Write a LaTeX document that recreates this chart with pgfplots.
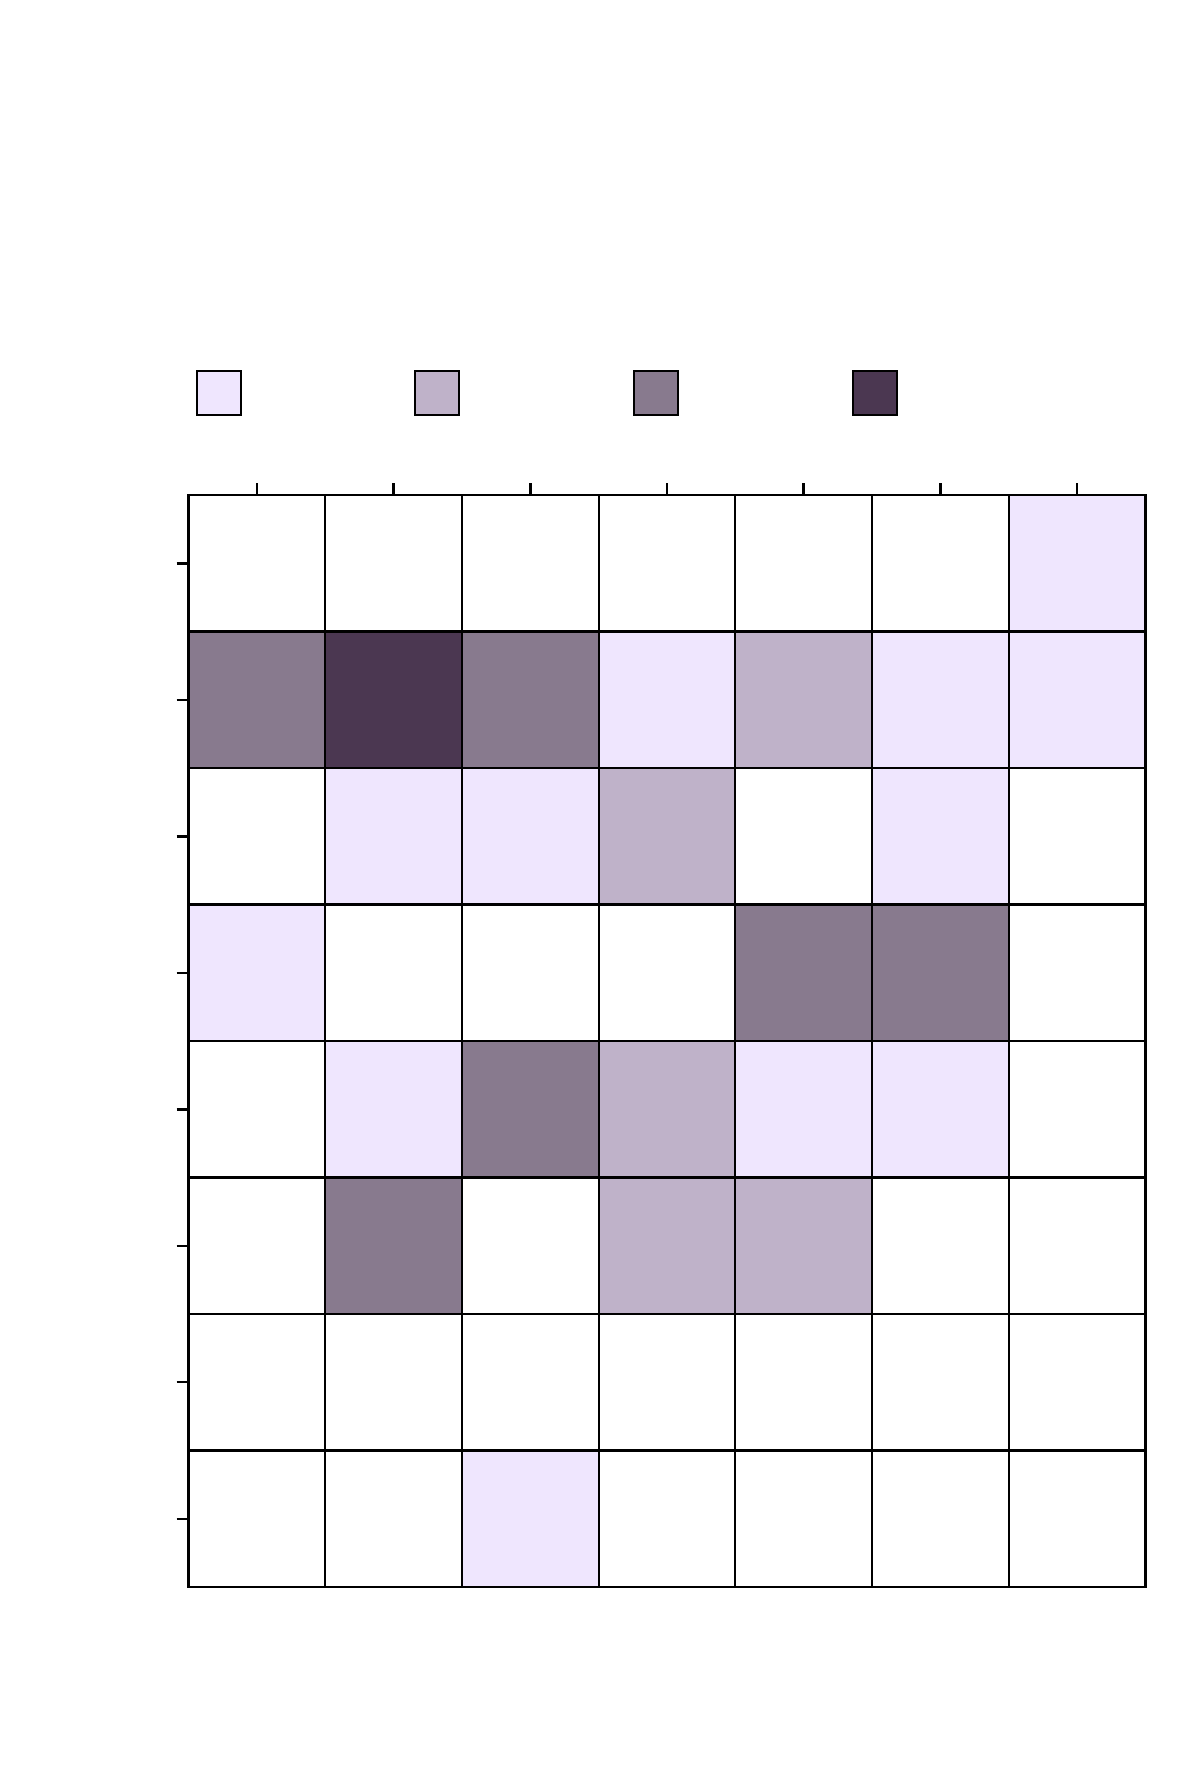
\documentclass[border=0pt]{standalone}
\usepackage{pgfplots}
\pgfplotsset{compat=1.18}
\usepackage{pgfplotstable}

% level of each cell: 0 = empty ... 4 = darkest, row 0 is the top row
\pgfplotstableread{
x y c
0 0 0
1 0 0
2 0 0
3 0 0
4 0 0
5 0 0
6 0 1
0 1 3
1 1 4
2 1 3
3 1 1
4 1 2
5 1 1
6 1 1
0 2 0
1 2 1
2 2 1
3 2 2
4 2 0
5 2 1
6 2 0
0 3 1
1 3 0
2 3 0
3 3 0
4 3 3
5 3 3
6 3 0
0 4 0
1 4 1
2 4 3
3 4 2
4 4 1
5 4 1
6 4 0
0 5 0
1 5 3
2 5 0
3 5 2
4 5 2
5 5 0
6 5 0
0 6 0
1 6 0
2 6 0
3 6 0
4 6 0
5 6 0
6 6 0
0 7 0
1 7 0
2 7 1
3 7 0
4 7 0
5 7 0
6 7 0
}\cells

\definecolor{lvA}{RGB}{239,230,254}
\definecolor{lvB}{RGB}{191,178,201}
\definecolor{lvC}{RGB}{136,122,142}
\definecolor{lvD}{RGB}{75,55,81}

\begin{document}
\begin{tikzpicture}
\useasboundingbox (0,0) rectangle (12cm,17.8cm);
\begin{axis}[
  at={(1.885cm,1.93cm)}, anchor=south west,
  scale only axis, width=9.57cm, height=10.92cm,
  xmin=-0.5, xmax=6.5, ymin=-0.5, ymax=7.5,
  y dir=reverse,
  xtick={0,...,6}, ytick={0,...,7},
  xticklabels={}, yticklabels={},
  xtick pos=upper, ytick pos=lower,
  tick align=outside, major tick length=0.12cm,
  tick style={black, line width=0.7pt},
  axis line style={black, line width=0.8pt},
  colormap={levels}{rgb255=(255,255,255) rgb255=(239,230,254)
    rgb255=(191,178,201) rgb255=(136,122,142) rgb255=(75,55,81)},
  colormap access=direct,
  legend columns=4,
  legend style={at={(0.0068,1.1154)}, anchor=north west, draw=none, fill=none,
    inner sep=0pt, column sep=0pt, nodes={inner sep=0pt},
    /tikz/every even column/.append style={column sep=1.69cm}},
  legend image code/.code={\draw[#1] (0cm,-0.22cm) rectangle (0.44cm,0.22cm);},
]
\addplot[matrix plot*, mesh/cols=7, point meta=explicit, draw=black,
  line width=0.6pt, forget plot] table[x=x, y=y, meta=c] {\cells};
\addlegendimage{fill=lvA, draw=black, line width=0.6pt}
\addlegendentry{}
\addlegendimage{fill=lvB, draw=black, line width=0.6pt}
\addlegendentry{}
\addlegendimage{fill=lvC, draw=black, line width=0.6pt}
\addlegendentry{}
\addlegendimage{fill=lvD, draw=black, line width=0.6pt}
\addlegendentry{}
\end{axis}
\end{tikzpicture}
\end{document}
